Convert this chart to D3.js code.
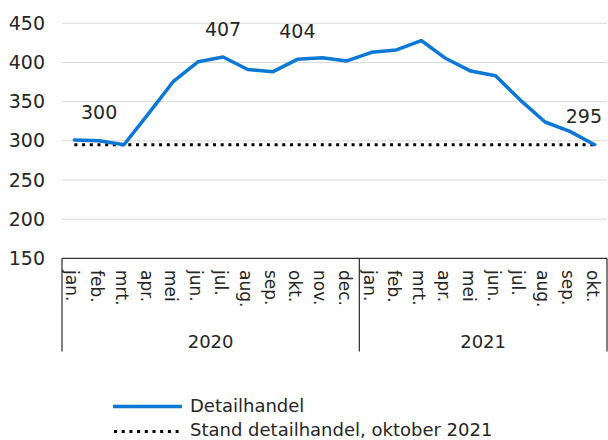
<!DOCTYPE html>
<html>
<head>
<meta charset="utf-8">
<script src="https://cdn.jsdelivr.net/npm/d3@7"></script>
<style>
  html, body { margin: 0; padding: 0; background: #fff; }
  svg { display: block; font-family: "DejaVu Sans", Verdana, sans-serif; }
</style>
</head>
<body>
<svg id="chart" width="608" height="440"></svg>
<script>
// ---- data ----
const months = ["jan.","feb.","mrt.","apr.","mei","jun.","jul.","aug.","sep.","okt.","nov.","dec.",
                "jan.","feb.","mrt.","apr.","mei","jun.","jul.","aug.","sep.","okt."];
const years = ["2020","2021"];
const yearCounts = [12, 10];
const detailhandel = [301,300,295,335,376,401,407,391,388,404,406,402,
                      413,416,428,405,389,383,352,324,312,295];
const standValue = 295;
const labelIndices = [1, 6, 9, 21];
const labelTexts = ["300","407","404","295"];
const yTicks = [150,200,250,300,350,400,450];
const seriesNames = ["Detailhandel","Stand detailhandel, oktober 2021"];

// ---- layout ----
const svg = d3.select("#chart");
const plotLeft = 62, plotRight = 607, plotTop = 23.3, plotBottom = 258.3;
const textColor = "#262626";
const blue = "#0a78d4";

const x = d3.scaleBand().domain(d3.range(months.length)).range([plotLeft, plotRight]).paddingInner(0).paddingOuter(0);
const y = d3.scaleLinear().domain([150, 450]).range([plotBottom, plotTop]);
const cx = i => x(i) + x.bandwidth() / 2;

// gridlines
svg.append("g").selectAll("line").data(yTicks.filter(t => t !== 150)).join("line")
  .attr("x1", plotLeft).attr("x2", plotRight)
  .attr("y1", d => y(d)).attr("y2", d => y(d))
  .attr("stroke", "#d9d9d9").attr("stroke-width", 1);

// y axis labels
const yAxis = d3.axisLeft(y).tickValues(yTicks).tickSize(0).tickPadding(0).tickFormat(d3.format("d"));
const yg = svg.append("g").attr("transform", "translate(45,0)").call(yAxis);
yg.select(".domain").remove();
yg.selectAll("text").attr("font-size", 19).attr("fill", textColor)
  .attr("font-family", "DejaVu Sans, Verdana, sans-serif");

// x axis box
const boxBottom = 351.5;
const axisG = svg.append("g");
axisG.append("line").attr("x1", plotLeft).attr("x2", plotRight).attr("y1", plotBottom).attr("y2", plotBottom)
  .attr("stroke", "#000").attr("stroke-width", 1);
let start = 0;
const dividers = [0];
yearCounts.forEach(c => { start += c; dividers.push(start); });
dividers.forEach(i => {
  const xx = i < months.length ? x(i) : plotRight;
  axisG.append("line").attr("x1", xx).attr("x2", xx).attr("y1", plotBottom).attr("y2", boxBottom)
    .attr("stroke", "#000").attr("stroke-width", 1);
});

// month labels
axisG.selectAll("text.month").data(months).join("text")
  .attr("class", "month")
  .attr("transform", (d, i) => `translate(${cx(i)},270) rotate(90)`)
  .attr("dy", "0.47em")
  .attr("font-size", 17).attr("fill", textColor)
  .text(d => d);

// year labels
years.forEach((yr, k) => {
  const a = x(dividers[k]);
  const b = dividers[k + 1] < months.length ? x(dividers[k + 1]) : plotRight;
  axisG.append("text").attr("x", (a + b) / 2).attr("y", 348)
    .attr("text-anchor", "middle").attr("font-size", 18).attr("fill", textColor).text(yr);
});

// dotted reference line
svg.append("line")
  .attr("x1", cx(0)).attr("x2", cx(months.length - 1) + 2)
  .attr("y1", y(standValue)).attr("y2", y(standValue))
  .attr("stroke", "#000").attr("stroke-width", 3)
  .attr("stroke-dasharray", "3,4.7");

// main line
const line = d3.line().x((d, i) => cx(i)).y(d => y(d));
svg.append("path").datum(detailhandel)
  .attr("d", line).attr("fill", "none")
  .attr("stroke", blue).attr("stroke-width", 3.5)
  .attr("stroke-linejoin", "round").attr("stroke-linecap", "round");

// data labels
labelIndices.forEach((idx, k) => {
  const t = svg.append("text")
    .attr("x", cx(idx)).attr("y", y(detailhandel[idx]) - 28)
    .attr("dy", "0.35em").attr("text-anchor", "middle")
    .attr("font-size", 19).attr("fill", textColor).text(labelTexts[k]);
  const w = t.node().getComputedTextLength();
  if (cx(idx) + w / 2 > 602) t.attr("x", 602 - w / 2);
});

// legend
const lg = svg.append("g");
lg.append("line").attr("x1", 113).attr("x2", 182).attr("y1", 406.5).attr("y2", 406.5)
  .attr("stroke", blue).attr("stroke-width", 3.5);
lg.append("line").attr("x1", 114).attr("x2", 182).attr("y1", 431.5).attr("y2", 431.5)
  .attr("stroke", "#000").attr("stroke-width", 3).attr("stroke-dasharray", "3,4.7");
lg.append("text").attr("x", 190).attr("y", 406).attr("dy", "0.35em")
  .attr("font-size", 18).attr("fill", textColor).text(seriesNames[0]);
lg.append("text").attr("x", 190).attr("y", 430).attr("dy", "0.33em")
  .attr("font-size", 18).attr("fill", textColor).text(seriesNames[1]);
</script>
</body>
</html>
